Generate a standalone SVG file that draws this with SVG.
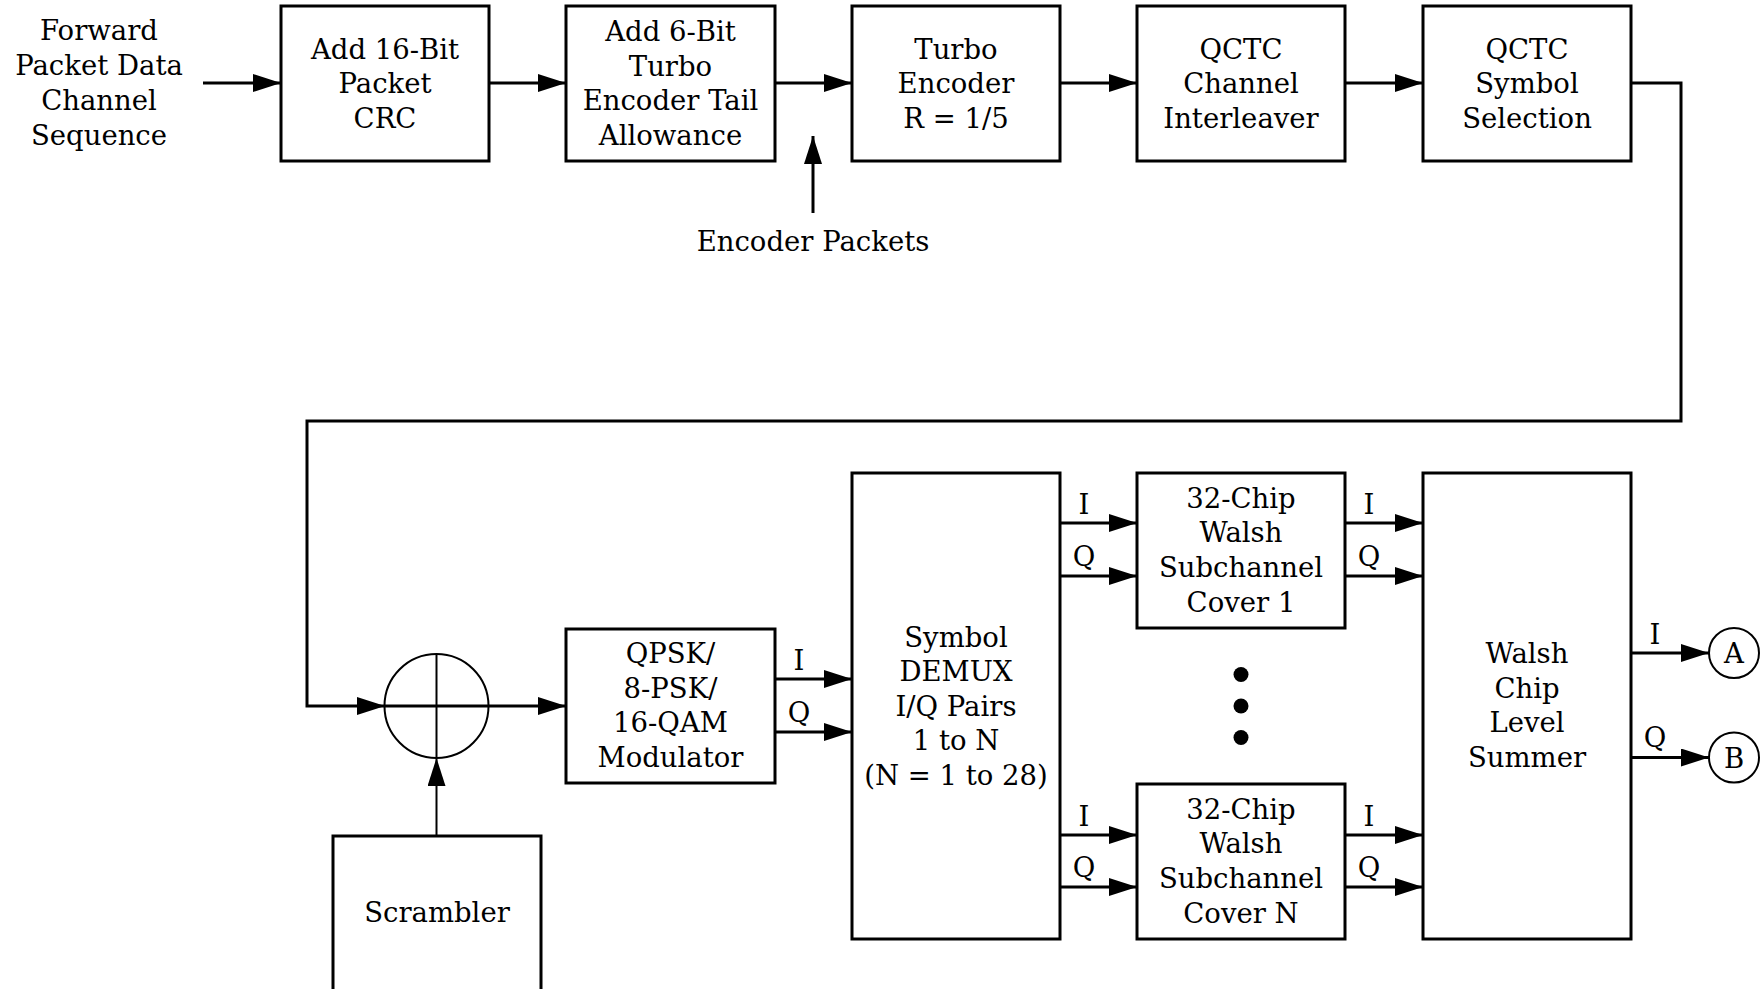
<svg xmlns="http://www.w3.org/2000/svg" width="1760" height="989" viewBox="0 0 1760 989">
<defs>
<style>
text{font-family:"DejaVu Serif","Liberation Serif",serif;font-size:27.5px;fill:#000;text-anchor:middle}
.box{fill:#fff;stroke:#000;stroke-width:3}
.ln{fill:none;stroke:#000;stroke-width:3}
.thin{fill:none;stroke:#000;stroke-width:2}
.arr{marker-end:url(#ah)}
</style>
<marker id="ah" markerUnits="userSpaceOnUse" markerWidth="29" markerHeight="19" refX="28" refY="9" orient="auto">
<path d="M0,0 L28,9 L0,18 z" fill="#000"/>
</marker>
</defs>
<rect width="1760" height="989" fill="#fff"/>

<g id="connectors">
<line class="ln arr" x1="203" y1="83" x2="281" y2="83"/>
<line class="ln arr" x1="489" y1="83" x2="566" y2="83"/>
<line class="ln arr" x1="775" y1="83" x2="852" y2="83"/>
<line class="ln arr" x1="1060" y1="83" x2="1137" y2="83"/>
<line class="ln arr" x1="1345" y1="83" x2="1423" y2="83"/>
<line class="ln arr" x1="813" y1="213" x2="813" y2="136"/>
<polyline class="ln arr" points="1631,83 1681,83 1681,421 307,421 307,706 385,706"/>
<line class="ln arr" x1="488" y1="706" x2="566" y2="706"/>
<line class="thin arr" x1="436.5" y1="836" x2="436.5" y2="758"/>
<line class="ln arr" x1="775" y1="679" x2="852" y2="679"/>
<line class="ln arr" x1="775" y1="732" x2="852" y2="732"/>
<line class="ln arr" x1="1060" y1="523" x2="1137" y2="523"/>
<line class="ln arr" x1="1060" y1="576" x2="1137" y2="576"/>
<line class="ln arr" x1="1060" y1="835" x2="1137" y2="835"/>
<line class="ln arr" x1="1060" y1="887" x2="1137" y2="887"/>
<line class="ln arr" x1="1345" y1="523" x2="1423" y2="523"/>
<line class="ln arr" x1="1345" y1="576" x2="1423" y2="576"/>
<line class="ln arr" x1="1345" y1="835" x2="1423" y2="835"/>
<line class="ln arr" x1="1345" y1="887" x2="1423" y2="887"/>
<line class="ln arr" x1="1631" y1="653" x2="1709" y2="653"/>
<line class="ln arr" x1="1631" y1="757.5" x2="1709" y2="757.5"/>
<text x="799" y="669.5">I</text>
<text x="799" y="721.5">Q</text>
<text x="1084" y="513.5">I</text>
<text x="1084" y="565.5">Q</text>
<text x="1084" y="825.5">I</text>
<text x="1084" y="876.5">Q</text>
<text x="1369" y="513.5">I</text>
<text x="1369" y="565.5">Q</text>
<text x="1369" y="825.5">I</text>
<text x="1369" y="876.5">Q</text>
<text x="1655" y="643.5">I</text>
<text x="1655" y="746.5">Q</text>
<text x="813" y="250.5">Encoder Packets</text>
</g>

<g id="input">
<text x="99" y="40">Forward</text>
<text x="99" y="75">Packet Data</text>
<text x="99" y="110">Channel</text>
<text x="99" y="144.5">Sequence</text>
</g>

<g id="crc">
<rect class="box" x="281" y="6" width="208" height="155"/>
<text x="385" y="58.5">Add 16-Bit</text>
<text x="385" y="93">Packet</text>
<text x="385" y="127.5">CRC</text>
</g>

<g id="tail">
<rect class="box" x="566" y="6" width="209" height="155"/>
<text x="670.5" y="40.5">Add 6-Bit</text>
<text x="670.5" y="75.5">Turbo</text>
<text x="670.5" y="110">Encoder Tail</text>
<text x="670.5" y="144.5">Allowance</text>
</g>

<g id="turbo">
<rect class="box" x="852" y="6" width="208" height="155"/>
<text x="956" y="58.5">Turbo</text>
<text x="956" y="93">Encoder</text>
<text x="956" y="127.5">R = 1/5</text>
</g>

<g id="interleaver">
<rect class="box" x="1137" y="6" width="208" height="155"/>
<text x="1241" y="58.5">QCTC</text>
<text x="1241" y="93">Channel</text>
<text x="1241" y="127.5">Interleaver</text>
</g>

<g id="selection">
<rect class="box" x="1423" y="6" width="208" height="155"/>
<text x="1527" y="58.5">QCTC</text>
<text x="1527" y="93">Symbol</text>
<text x="1527" y="127.5">Selection</text>
</g>

<g id="mixer">
<circle class="thin" cx="436.5" cy="706" r="52"/>
<line class="thin" x1="436.5" y1="654" x2="436.5" y2="758"/>
<line class="ln" x1="384.5" y1="706" x2="488.5" y2="706"/>
</g>

<g id="scrambler">
<rect class="box" x="333" y="836" width="208" height="180"/>
<text x="437" y="921.5">Scrambler</text>
</g>

<g id="modulator">
<rect class="box" x="566" y="629" width="209" height="154"/>
<text x="670.5" y="662.5">QPSK/</text>
<text x="670.5" y="697.5">8-PSK/</text>
<text x="670.5" y="732">16-QAM</text>
<text x="670.5" y="766.5">Modulator</text>
</g>

<g id="demux">
<rect class="box" x="852" y="473" width="208" height="466"/>
<text x="956" y="646.5">Symbol</text>
<text x="956" y="681">DEMUX</text>
<text x="956" y="715.5">I/Q Pairs</text>
<text x="956" y="750">1 to N</text>
<text x="956" y="784.5">(N = 1 to 28)</text>
</g>

<g id="cover1">
<rect class="box" x="1137" y="473" width="208" height="155"/>
<text x="1241" y="507.5">32-Chip</text>
<text x="1241" y="542">Walsh</text>
<text x="1241" y="577">Subchannel</text>
<text x="1241" y="611.5">Cover 1</text>
</g>

<g id="ellipsis">
<circle cx="1241" cy="674.5" r="7.5" fill="#000"/>
<circle cx="1241" cy="706" r="7.5" fill="#000"/>
<circle cx="1241" cy="737.5" r="7.5" fill="#000"/>
</g>

<g id="coverN">
<rect class="box" x="1137" y="784" width="208" height="155"/>
<text x="1241" y="818.5">32-Chip</text>
<text x="1241" y="853">Walsh</text>
<text x="1241" y="888">Subchannel</text>
<text x="1241" y="922.5">Cover N</text>
</g>

<g id="summer">
<rect class="box" x="1423" y="473" width="208" height="466"/>
<text x="1527" y="663">Walsh</text>
<text x="1527" y="697.5">Chip</text>
<text x="1527" y="732">Level</text>
<text x="1527" y="766.5">Summer</text>
</g>

<g id="outA">
<circle class="thin" cx="1734" cy="653" r="25"/>
<text x="1734" y="663">A</text>
</g>

<g id="outB">
<circle class="thin" cx="1734" cy="757.5" r="25"/>
<text x="1734" y="767.5">B</text>
</g>
</svg>
